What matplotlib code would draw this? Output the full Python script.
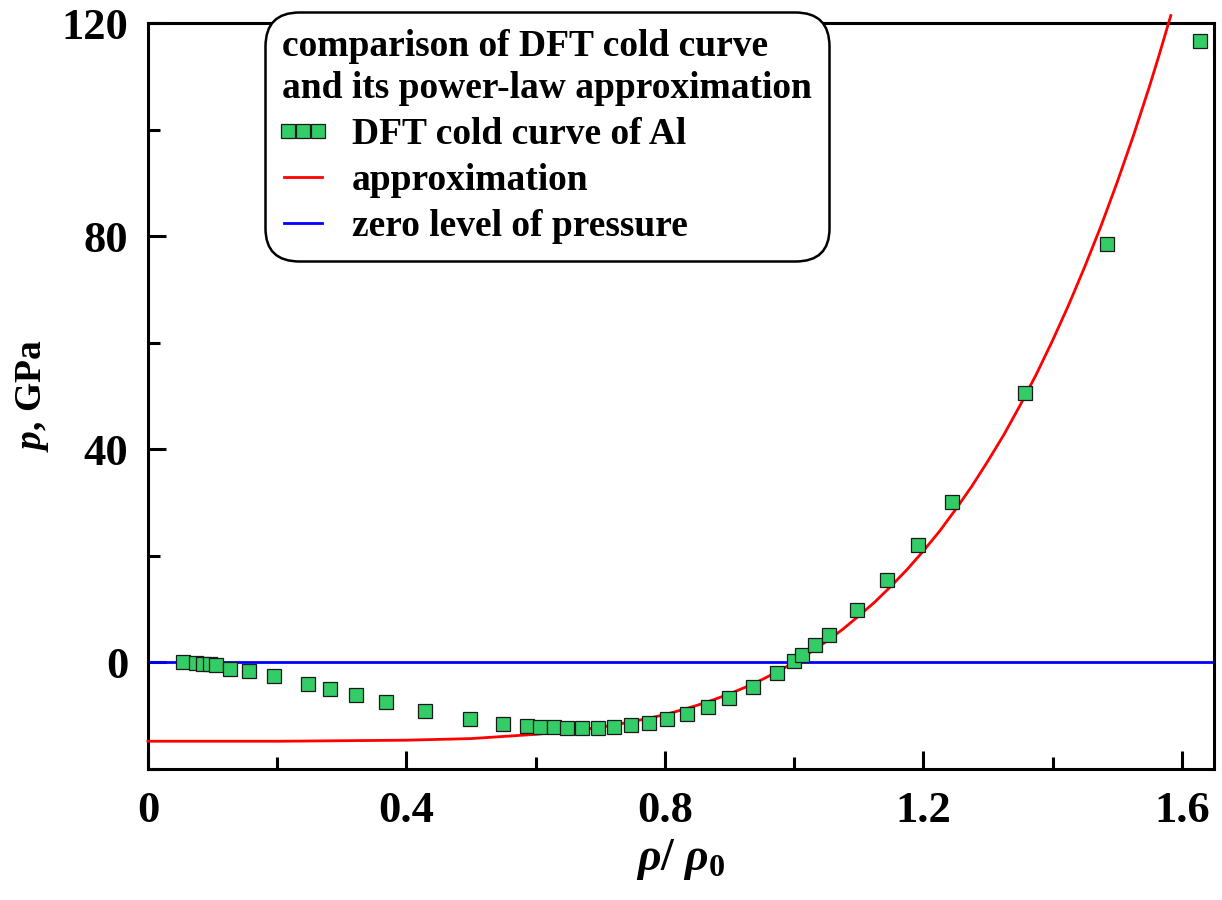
import matplotlib
matplotlib.use('Agg')
import matplotlib.pyplot as plt
from matplotlib.ticker import MultipleLocator
from matplotlib.legend_handler import HandlerLine2D

## DFT cold curve of Al
rho = [0.054, 0.074, 0.085, 0.096, 0.106, 0.127, 0.156, 0.195, 0.248, 0.282,
       0.322, 0.369, 0.428, 0.498, 0.549, 0.587, 0.607, 0.628, 0.649, 0.672,
       0.696, 0.721, 0.748, 0.775, 0.804, 0.835, 0.866, 0.900, 0.937, 0.973,
       1.000, 1.013, 1.033, 1.054, 1.098, 1.144, 1.192, 1.245, 1.357, 1.485,
       1.629]
p_dft = [0.07, -0.05, -0.25, -0.37, -0.56, -1.2, -1.6, -2.55, -4.0, -4.9,
         -6.1, -7.5, -9.1, -10.7, -11.5, -11.9, -12.1, -12.2, -12.35, -12.35,
         -12.3, -12.1, -11.7, -11.3, -10.6, -9.7, -8.35, -6.6, -4.6, -1.9,
         0.26, 1.3, 3.2, 5.2, 9.9, 15.5, 22.0, 30.1, 50.6, 78.6,
         116.7]

## power-law approximation, sampled along the drawn curve
rho_fit = [0.0, 0.2, 0.4, 0.5, 0.6, 0.65, 0.675, 0.7, 0.725, 0.75, 0.775,
           0.8, 0.825, 0.85, 0.875, 0.9, 0.925, 0.95, 0.975, 1.0, 1.025,
           1.05, 1.075, 1.1, 1.125, 1.15, 1.175, 1.2, 1.225, 1.25, 1.275,
           1.3, 1.325, 1.35, 1.375, 1.4, 1.425, 1.45, 1.475, 1.5, 1.525,
           1.55, 1.565, 1.583]
p_fit = [-14.8, -14.8, -14.6, -14.3, -13.5, -12.95, -12.58, -12.2, -11.67,
         -11.1, -10.48, -9.8, -8.96, -8.05, -7.03, -5.9, -4.64, -3.25, -1.7,
         0.0, 1.88, 3.93, 6.19, 8.7, 11.34, 14.3, 17.45, 20.9, 24.6, 28.7,
         33.05, 37.8, 42.8, 48.3, 54.1, 60.4, 67.1, 74.3, 81.9, 90.1, 98.8,
         108.1, 114.0, 121.4]

legend_title = 'comparison of DFT cold curve\nand its power-law approximation'
labels = ['DFT cold curve of Al', 'approximation', 'zero level of pressure']

plt.rcParams['font.family'] = 'Liberation Serif'
plt.rcParams['font.weight'] = 'bold'
plt.rcParams['axes.labelweight'] = 'bold'
plt.rcParams['mathtext.fontset'] = 'custom'
plt.rcParams['mathtext.it'] = 'Liberation Serif:italic:bold'
plt.rcParams['mathtext.rm'] = 'Liberation Serif:bold'
plt.rcParams['mathtext.bf'] = 'Liberation Serif:bold'

fig = plt.figure(figsize=(12.22, 9.0), dpi=100)
ax = fig.add_axes([0.1211, 0.1456, 0.8724, 0.8288])

dft, = ax.plot(rho, p_dft, 's', ms=9.5, mfc='#33cc66', mec='#1a1a1a',
               mew=0.9, label=labels[0], zorder=4)
fit, = ax.plot(rho_fit, p_fit, '-', color='#ff0000', lw=2.0, label=labels[1],
               clip_on=False, zorder=3)
zero = ax.axhline(0, color='#0000ff', lw=2.0, label=labels[2], zorder=2)

ax.set_xlim(0, 1.65)
ax.set_ylim(-20, 120)
ax.xaxis.set_minor_locator(MultipleLocator(0.2))
ax.yaxis.set_minor_locator(MultipleLocator(20))
ax.set_xticks([0, 0.4, 0.8, 1.2, 1.6])
ax.set_xticklabels(['0', '0.4', '0.8', '1.2', '1.6'])
ax.set_yticks([0, 40, 80, 120])
ax.set_yticklabels(['0', '40', '80', '120'])

ax.tick_params(which='both', direction='in', top=False, right=False, width=2.2)
ax.tick_params(which='major', length=13, labelsize=32)
ax.tick_params(which='minor', length=8.5)
ax.tick_params(axis='x', pad=16)
ax.tick_params(axis='y', pad=14)
for s in ax.spines.values():
    s.set_linewidth(2.2)

ax.set_xlabel(r'$\rho$/ $\rho_{0}$', fontsize=33, labelpad=4)
ax.set_ylabel(r'$p$, GPa', fontsize=27, labelpad=8)

leg = ax.legend(title=legend_title, loc='upper left',
                bbox_to_anchor=(265 / 1222, 1 - 12 / 900),
                bbox_transform=fig.transFigure,
                prop={'size': 27, 'weight': 'bold'},
                title_fontproperties={'size': 27, 'weight': 'bold'},
                numpoints=3, handlelength=1.12,
                handler_map={dft: HandlerLine2D(marker_pad=0.17),
                             fit: HandlerLine2D(marker_pad=0.05),
                             zero: HandlerLine2D(marker_pad=0.05)},
                handletextpad=0.75, labelspacing=0.3, borderpad=0.45,
                borderaxespad=0, alignment='left', fancybox=True,
                framealpha=1, edgecolor='black')
leg.get_title().set_multialignment('left')
leg.get_title().set_linespacing(1.25)
frame = leg.get_frame()
frame.set_boxstyle('round', pad=0, rounding_size=0.9)
frame.set_linewidth(1.8)
leg.set_zorder(10)

fig.savefig('out.png', dpi=100)
